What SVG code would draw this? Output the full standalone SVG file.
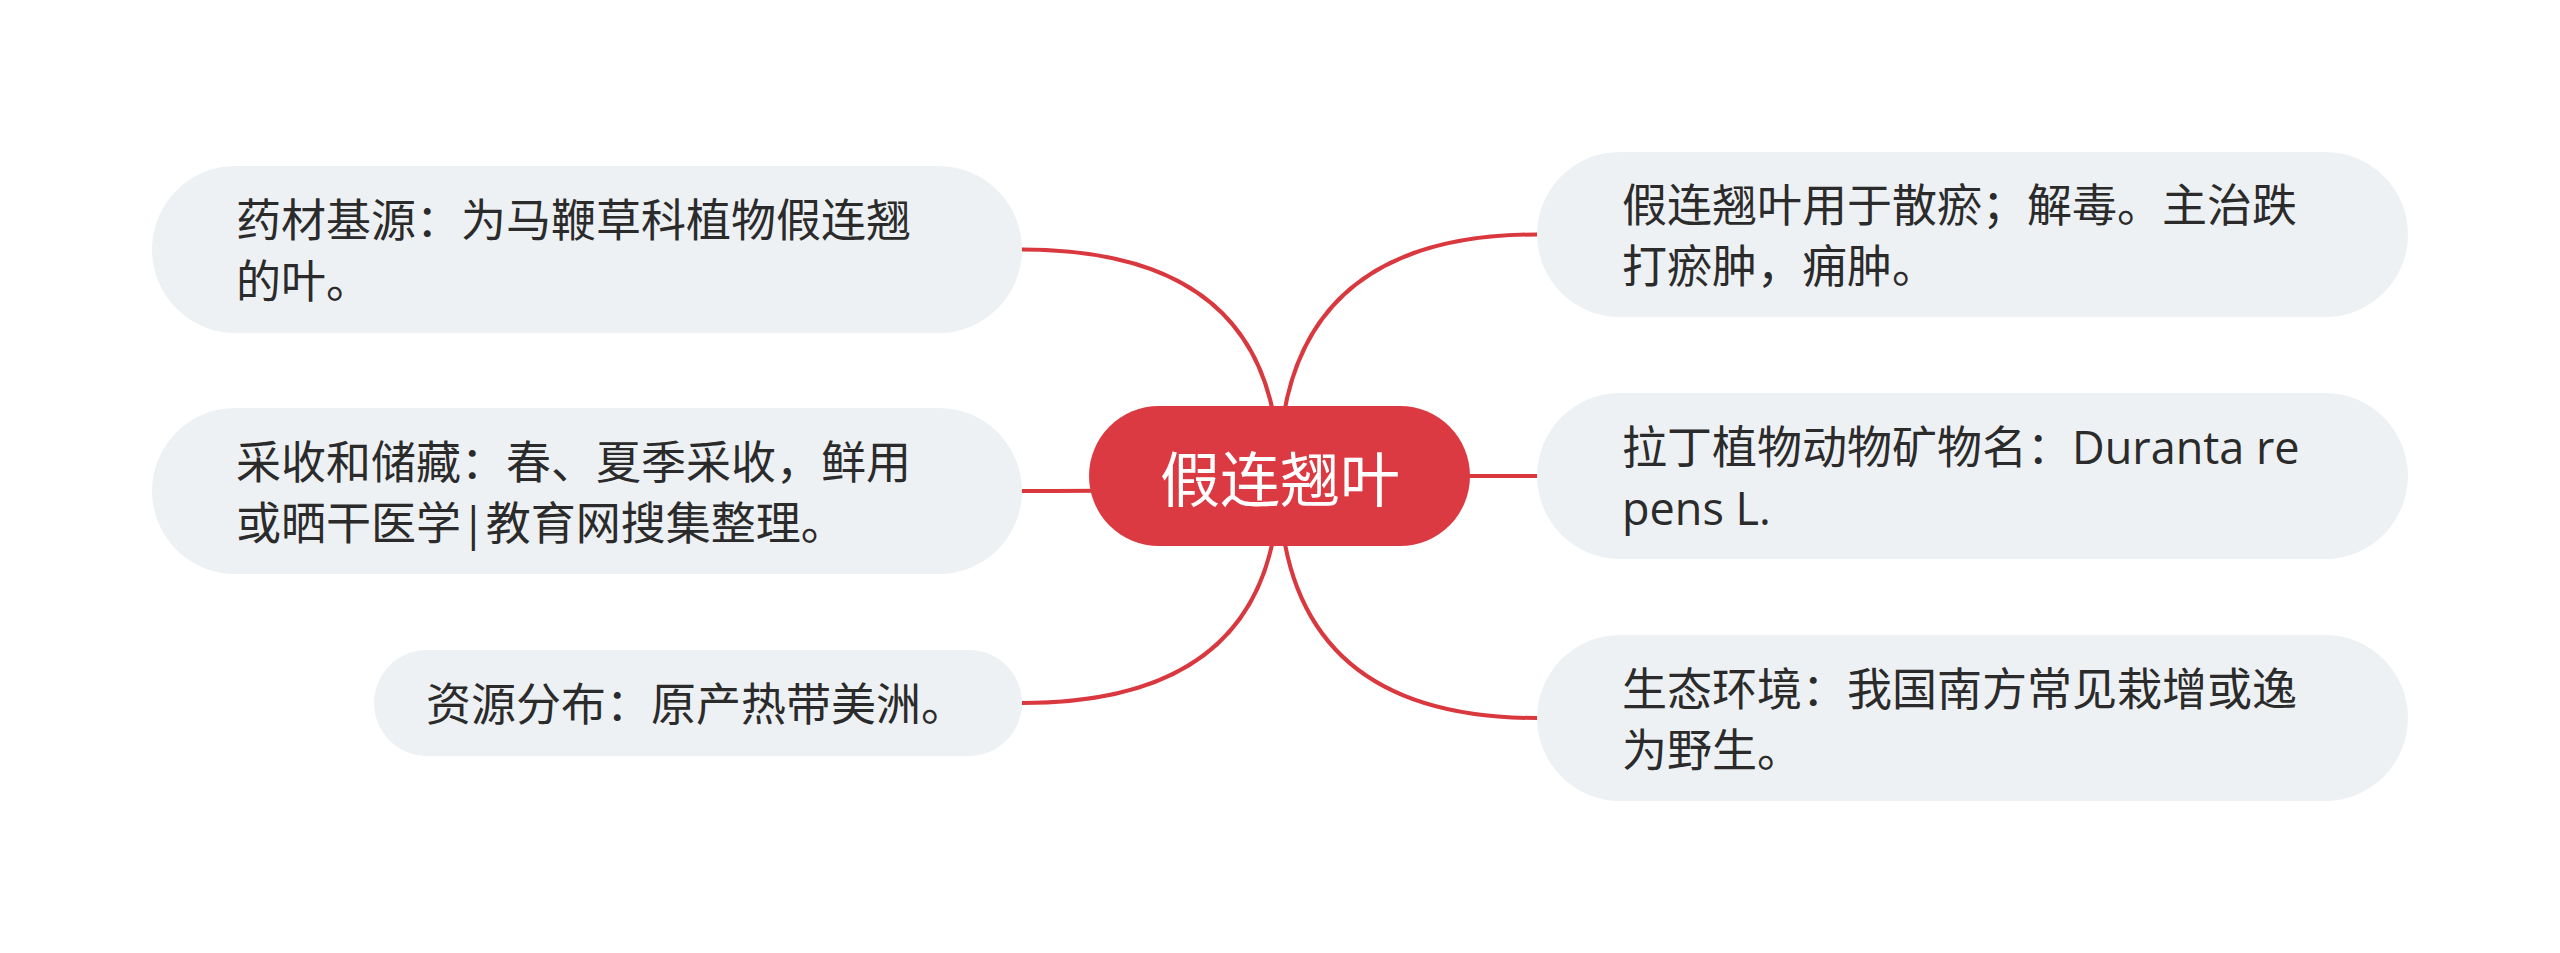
<svg xmlns="http://www.w3.org/2000/svg" width="2560" height="953" viewBox="0 0 2560 953">
<style>
.bg{fill:#ffffff}
.conn{fill:none;stroke:#d9383f;stroke-width:4;stroke-linecap:round}
.sub{fill:#eef1f4}
.root{fill:#dc3a43}
.t{font-family:"Open Sans","Noto Sans CJK SC",sans-serif;font-size:45px;fill:#2b2b2b}
.rt{font-family:"Noto Sans CJK SC",sans-serif;font-size:60px;fill:#ffffff;text-anchor:middle}
</style>
<rect class="bg" x="0" y="0" width="2560" height="953"/>
<g id="connectors">
<path class="conn" d="M1022 249.5 Q1279 249.5 1279 476"/>
<path class="conn" d="M1022 491 Q1279 491 1279 476"/>
<path class="conn" d="M1022 703 Q1279 703 1279 476"/>
<path class="conn" d="M1537 234.5 Q1279 234.5 1279 476"/>
<path class="conn" d="M1537 476 L1279 476"/>
<path class="conn" d="M1537 718 Q1279 718 1279 476"/>
</g>
<g id="root">
<rect class="root" x="1089" y="406" width="381" height="140" rx="70"/>
<text class="rt" x="1280" y="502">假连翘叶</text>
</g>
<g id="node-source">
<rect class="sub" x="152" y="166" width="870" height="167" rx="83.5"/>
<text class="t"><tspan x="236" y="237">药材基源：为马鞭草科植物假连翘</tspan><tspan x="236" y="298">的叶。</tspan></text>
</g>
<g id="node-harvest">
<rect class="sub" x="152" y="408" width="870" height="166" rx="83"/>
<text class="t"><tspan x="236" y="478.5">采收和储藏：春、夏季采收，鲜用</tspan><tspan x="236" y="539.5">或晒干医学|教育网搜集整理。</tspan></text>
</g>
<g id="node-distribution">
<rect class="sub" x="374" y="650" width="648" height="106" rx="53"/>
<text class="t" x="426" y="720.5">资源分布：原产热带美洲。</text>
</g>
<g id="node-use">
<rect class="sub" x="1537" y="152" width="871" height="165" rx="82.5"/>
<text class="t"><tspan x="1622" y="222">假连翘叶用于散瘀；解毒。主治跌</tspan><tspan x="1622" y="283">打瘀肿，痈肿。</tspan></text>
</g>
<g id="node-latin">
<rect class="sub" x="1537" y="393" width="871" height="166" rx="83"/>
<text class="t"><tspan x="1622" y="463.5">拉丁植物动物矿物名：Duranta re</tspan><tspan x="1622" y="524.5">pens L.</tspan></text>
</g>
<g id="node-habitat">
<rect class="sub" x="1537" y="635" width="871" height="166" rx="83"/>
<text class="t"><tspan x="1622" y="705.5">生态环境：我国南方常见栽增或逸</tspan><tspan x="1622" y="766.5">为野生。</tspan></text>
</g>
</svg>
